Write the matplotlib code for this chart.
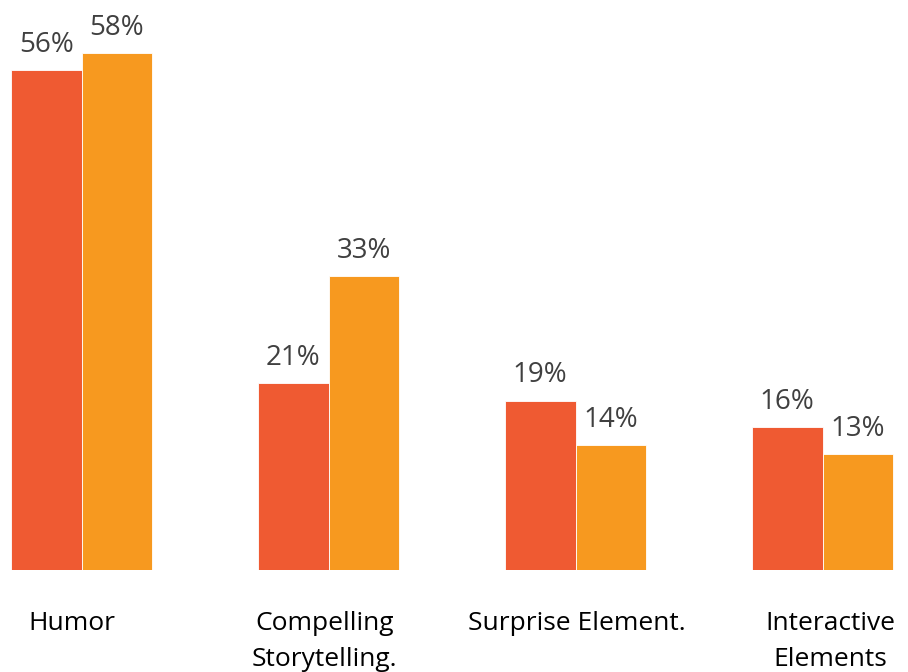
import numpy as np
import matplotlib
matplotlib.use('Agg')
import matplotlib.pyplot as plt
from matplotlib import rcParams

rcParams['font.family'] = ['Open Sans', 'DejaVu Sans']

categories = ['Humor', 'Compelling\nStorytelling.', 'Surprise Element.', 'Interactive\nElements']
series_a = [56, 21, 19, 16]
series_b = [58, 33, 14, 13]

red = '#EF5A32'
orange = '#F7991F'

fig = plt.figure(figsize=(9.08, 6.72), dpi=100)
ax = fig.add_axes([0, (672 - 570) / 672, 1, 570 / 672])

x = np.arange(len(categories))
w = 0.2855
bars_a = ax.bar(x - w / 2, series_a, w, color=red, edgecolor='white', linewidth=0.6)
bars_b = ax.bar(x + w / 2, series_b, w, color=orange, edgecolor='white', linewidth=0.6)

for bars, vals in [(bars_a, series_a), (bars_b, series_b)]:
    for b, v in zip(bars, vals):
        ax.annotate(f'{v}%', (b.get_x() + b.get_width() / 2, b.get_height()),
                    textcoords='offset points', xytext=(0, 8),
                    ha='center', va='bottom', fontsize=20, color='#404040')

ax.set_xlim(-81.5 / 247, (908 - 81.5) / 247)
ax.set_ylim(0, 570 / 8.92)
ax.axis('off')

# category labels sit a bit left of the group centre in the original
shifts = [-10, -4, 1, 8]
for xi, label, dx in zip(x, categories, shifts):
    ax.annotate(label, (xi, 0), textcoords='offset pixels', xytext=(dx, -41),
                ha='center', va='top', fontsize=19, color='black',
                linespacing=1.6, annotation_clip=False)

fig.savefig('out.png', dpi=100, facecolor='white')
